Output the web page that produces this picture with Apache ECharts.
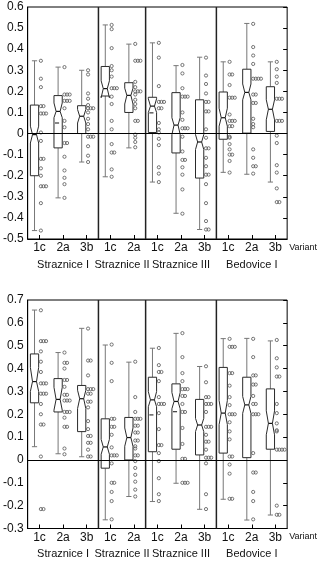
<!DOCTYPE html>
<html>
<head>
<meta charset="utf-8">
<script src="https://cdn.jsdelivr.net/npm/echarts@6/dist/echarts.min.js"></script>
<style>
  html, body { margin: 0; padding: 0; background: #fff; }
  #chart { width: 318px; height: 564px; }
</style>
</head>
<body>
<div id="chart"></div>
<script>
// categories and groups
const categories = ['1c', '2a', '3b', '1c', '2a', '1c', '2a', '3b', '1c', '2a', '3b'];
const groups = ['Straznice I', 'Straznice II', 'Straznice III', 'Bedovice I'];
const groupSizes = [3, 2, 3, 3];

// upper panel: box statistics
const topWhiskerLow  = [-0.46, -0.305, -0.135, -0.205, -0.068, -0.23, -0.378, -0.455, -0.184, -0.193, -0.23];
const topQ1          = [-0.2, -0.068, 0.0, 0.178, 0.1, 0.005, -0.092, -0.211, -0.027, 0.002, 0.01];
const topNotchLow    = [-0.045, 0.075, 0.05, 0.17, 0.14, 0.1, -0.005, -0.076, 0.035, 0.16, 0.065];
const topMedian      = [-0.005, 0.105, 0.082, 0.213, 0.181, 0.13, 0.04, -0.04, 0.075, 0.195, 0.115];
const topNotchHigh   = [0.035, 0.145, 0.114, 0.25, 0.215, 0.165, 0.075, -0.005, 0.12, 0.235, 0.16];
const topQ3          = [0.135, 0.18, 0.132, 0.318, 0.241, 0.172, 0.194, 0.16, 0.197, 0.305, 0.222];
const topWhiskerHigh = [0.345, 0.315, 0.3, 0.515, 0.424, 0.43, 0.322, 0.362, 0.34, 0.522, 0.34];
const topDash        = [null, 0.05, null, null, null, 0.098, null, null, null, null, null];
const topPoints = [
  [0.345, 0.26, 0.22, 0.13, 0.13, 0.095, 0.095, 0.095, 0.005, -0.035, -0.12, -0.12, -0.165, -0.2, -0.25, -0.25, -0.25, -0.33, -0.46],
  [0.315, 0.185, 0.185, 0.185, 0.155, 0.155, 0.155, 0.12, 0.06, 0.03, -0.045, -0.045, -0.11, -0.175, -0.21, -0.24, -0.305],
  [0.3, 0.28, 0.19, 0.165, 0.135, 0.12, 0.12, 0.12, 0.1, 0.07, 0.045, 0.02, -0.015, -0.015, -0.015, -0.06, -0.105, -0.135],
  [0.515, 0.495, 0.405, 0.32, 0.3, 0.27, 0.215, 0.215, 0.215, 0.175, 0.14, 0.06, 0.02, -0.05, -0.09, -0.09, -0.17, -0.205],
  [0.425, 0.345, 0.345, 0.345, 0.245, 0.22, 0.2, 0.2, 0.2, 0.185, 0.16, 0.14, 0.12, 0.06, 0.06, -0.005, -0.02, -0.04, -0.065],
  [0.43, 0.36, 0.225, 0.15, 0.15, 0.15, 0.12, 0.12, 0.05, 0.02, 0.005, -0.025, -0.055, -0.16, -0.19, -0.23],
  [0.325, 0.285, 0.215, 0.175, 0.175, 0.175, 0.1, 0.065, 0.025, 0.025, 0.025, -0.015, -0.085, -0.125, -0.125, -0.16, -0.195, -0.265, -0.38],
  [0.36, 0.275, 0.235, 0.19, 0.15, 0.15, 0.105, 0.105, 0.02, -0.02, -0.07, -0.07, -0.115, -0.155, -0.195, -0.195, -0.24, -0.33, -0.415, -0.455, -0.455],
  [0.34, 0.28, 0.28, 0.23, 0.17, 0.17, 0.17, 0.09, 0.06, 0.06, 0.06, 0.035, 0.035, -0.015, -0.02, -0.05, -0.075, -0.1, -0.1, -0.13, -0.185],
  [0.52, 0.41, 0.37, 0.33, 0.26, 0.26, 0.26, 0.26, 0.185, 0.185, 0.145, 0.145, 0.07, 0.045, 0.03, -0.075, -0.115, -0.155, -0.155, -0.19],
  [0.34, 0.305, 0.27, 0.24, 0.165, 0.165, 0.165, 0.06, 0.06, 0.06, -0.01, -0.045, -0.15, -0.185, -0.26, -0.325, -0.325]
];

// lower panel: box statistics
const botWhiskerLow  = [0.058, 0.027, 0.014, -0.262, -0.16, -0.182, -0.102, -0.216, -0.172, -0.263, -0.241];
const botQ1          = [0.25, 0.21, 0.124, -0.036, 0.0, 0.036, 0.047, 0.022, 0.03, 0.01, 0.047];
const botNotchLow    = [0.3, 0.218, 0.225, 0.025, 0.06, 0.233, 0.224, 0.124, 0.155, 0.204, 0.11];
const botMedian      = [0.343, 0.265, 0.268, 0.057, 0.098, 0.263, 0.256, 0.153, 0.205, 0.241, 0.16];
const botNotchHigh   = [0.405, 0.318, 0.305, 0.09, 0.14, 0.299, 0.295, 0.182, 0.26, 0.278, 0.215];
const botQ3          = [0.464, 0.356, 0.326, 0.18, 0.186, 0.362, 0.333, 0.265, 0.405, 0.362, 0.311];
const botWhiskerHigh = [0.656, 0.47, 0.576, 0.503, 0.428, 0.489, 0.554, 0.409, 0.531, 0.532, 0.521];
const botDash        = [null, null, null, null, null, 0.197, 0.211, null, null, null, null];
const botPoints = [
  [0.655, 0.52, 0.52, 0.52, 0.475, 0.43, 0.385, 0.335, 0.335, 0.335, 0.29, 0.29, 0.29, 0.245, 0.2, 0.155, 0.155, 0.015, -0.215, -0.215],
  [0.47, 0.425, 0.425, 0.4, 0.35, 0.35, 0.32, 0.285, 0.285, 0.26, 0.26, 0.26, 0.21, 0.21, 0.21, 0.185, 0.145, 0.145, 0.05, 0.025],
  [0.575, 0.435, 0.435, 0.37, 0.31, 0.31, 0.31, 0.29, 0.29, 0.255, 0.255, 0.23, 0.17, 0.135, 0.105, 0.105, 0.075, 0.075, 0.045, 0.015, 0.015],
  [0.505, 0.425, 0.345, 0.18, 0.18, 0.145, 0.145, 0.11, 0.055, 0.02, 0.02, 0.02, -0.015, -0.1, -0.1, -0.14, -0.18, -0.26],
  [0.43, 0.275, 0.21, 0.18, 0.18, 0.18, 0.15, 0.15, 0.12, 0.12, 0.085, 0.085, 0.06, 0.05, 0.02, 0.02, -0.005, -0.035, -0.065, -0.095, -0.13, -0.16],
  [0.49, 0.415, 0.385, 0.385, 0.345, 0.275, 0.245, 0.245, 0.245, 0.205, 0.135, 0.065, 0.065, 0.03, -0.005, -0.08, -0.15, -0.18],
  [0.555, 0.45, 0.38, 0.345, 0.31, 0.31, 0.31, 0.28, 0.28, 0.245, 0.21, 0.21, 0.14, 0.07, 0.005, 0.005, -0.1, -0.1, -0.1],
  [0.41, 0.34, 0.275, 0.275, 0.245, 0.245, 0.245, 0.21, 0.145, 0.145, 0.145, 0.11, 0.08, 0.08, 0.045, 0.01, 0.01, 0.01, -0.015, -0.15, -0.215],
  [0.53, 0.495, 0.495, 0.495, 0.38, 0.38, 0.325, 0.275, 0.24, 0.2, 0.2, 0.2, 0.165, 0.125, 0.09, 0.015, 0.015, -0.02, -0.06, -0.17, -0.17],
  [0.53, 0.45, 0.37, 0.37, 0.33, 0.33, 0.28, 0.245, 0.245, 0.2, 0.2, 0.2, 0.03, -0.055, -0.055, -0.14, -0.18, -0.26],
  [0.525, 0.445, 0.405, 0.365, 0.365, 0.245, 0.205, 0.16, 0.13, 0.125, 0.045, 0.045, 0.045, 0.045, -0.2, -0.24, -0.24]
];

// axis ranges
const topRange = [-0.5, 0.6];
const botRange = [-0.3, 0.7];
const yStep = 0.1;

const FONT = '"Liberation Sans", Arial, sans-serif';

// group centres / boundaries on the 0..11 axis
const groupCenters = [];
const groupEdges = [];
let acc = 0;
groupSizes.forEach((n, i) => {
    groupCenters.push(acc + n / 2);
    acc += n;
    if (i < groupSizes.length - 1) groupEdges.push(acc);
});

function boxData(lo, q1, nlo, med, nhi, q3, hi, dash) {
    return lo.map((v, i) => [i, v, q1[i], nlo[i], med[i], nhi[i], q3[i], hi[i], dash[i] == null ? '-' : dash[i]]);
}

function pointData(lists) {
    const out = [];
    lists.forEach((list, i) => {
        const seen = {};
        list.forEach(v => {
            const key = v.toFixed(3);
            const r = seen[key] || 0;
            seen[key] = r + 1;
            out.push([i, v, r]);
        });
    });
    return out;
}

function renderBox(params, api) {
    const idx = api.value(0);
    const bw = api.size([1, 0])[0];
    const cx = api.coord([idx, 0])[0] - bw * 0.21;
    const hw = bw * 0.175, nw = bw * 0.085, cw = bw * 0.11;
    const y = k => api.coord([idx, api.value(k)])[1];
    const lo = y(1), q1 = y(2), nlo = y(3), med = y(4), nhi = y(5), q3 = y(6), hi = y(7);
    const whStyle = { stroke: '#777', lineWidth: 1 };
    const children = [
        { type: 'line', shape: { x1: cx, y1: q3, x2: cx, y2: hi }, style: whStyle },
        { type: 'line', shape: { x1: cx, y1: q1, x2: cx, y2: lo }, style: whStyle },
        { type: 'line', shape: { x1: cx - cw, y1: hi, x2: cx + cw, y2: hi }, style: whStyle },
        { type: 'line', shape: { x1: cx - cw, y1: lo, x2: cx + cw, y2: lo }, style: whStyle },
        {
            type: 'polygon',
            shape: {
                points: [
                    [cx - hw, q3], [cx - hw, nhi], [cx - nw, med], [cx - hw, nlo], [cx - hw, q1],
                    [cx + hw, q1], [cx + hw, nlo], [cx + nw, med], [cx + hw, nhi], [cx + hw, q3]
                ]
            },
            style: { stroke: '#2a2a2a', fill: '#fff', lineWidth: 1 }
        },
        { type: 'line', shape: { x1: cx - nw, y1: med, x2: cx + nw, y2: med }, style: { stroke: '#111', lineWidth: 1.2 } }
    ];
    const d = api.value(8);
    if (d != null && !isNaN(d)) {
        const yd = api.coord([idx, d])[1];
        children.push({ type: 'line', shape: { x1: cx - hw + 1, y1: yd, x2: cx + 1, y2: yd }, style: { stroke: '#111', lineWidth: 1 } });
    }
    return { type: 'group', children: children };
}

function renderPoint(params, api) {
    const idx = api.value(0);
    const bw = api.size([1, 0])[0];
    const p = api.coord([idx, api.value(1)]);
    return {
        type: 'circle',
        shape: { cx: p[0] + bw * 0.06 + api.value(2) * bw * 0.11, cy: p[1], r: 1.6 },
        style: { stroke: '#555', fill: 'none', lineWidth: 0.8 }
    };
}

function renderDivider(params, api) {
    const x = api.coord([api.value(0), 0])[0];
    const cs = params.coordSys;
    return {
        type: 'line',
        shape: { x1: x, y1: cs.y, x2: x, y2: cs.y + cs.height },
        style: { stroke: '#222', lineWidth: 1.5 }
    };
}

const panels = [
    { grid: { left: 24, top: 7, width: 264, height: 232 }, range: topRange,
      boxes: boxData(topWhiskerLow, topQ1, topNotchLow, topMedian, topNotchHigh, topQ3, topWhiskerHigh, topDash),
      points: pointData(topPoints) },
    { grid: { left: 26, top: 300, width: 262, height: 228.5 }, range: botRange,
      boxes: boxData(botWhiskerLow, botQ1, botNotchLow, botMedian, botNotchHigh, botQ3, botWhiskerHigh, botDash),
      points: pointData(botPoints) }
];

const option = { animation: false, grid: [], xAxis: [], yAxis: [], series: [] };

panels.forEach((p, g) => {
    option.grid.push(Object.assign({ show: true, borderColor: '#000', borderWidth: 1, backgroundColor: 'transparent' }, p.grid));
    option.xAxis.push({
        type: 'category', gridIndex: g, position: 'bottom', data: categories,
        axisLine: { show: true, onZero: false, lineStyle: { color: '#000' } },
        axisTick: { show: true, inside: true, length: 4, alignWithLabel: true, interval: 0, lineStyle: { color: '#000' } },
        axisLabel: { interval: 0, margin: 3, fontSize: 12, color: '#111', fontFamily: FONT },
        splitLine: { show: false },
        name: 'Variant', nameLocation: 'end', nameGap: 2,
        nameTextStyle: { fontSize: 9, color: '#111', fontFamily: FONT, verticalAlign: 'top', padding: [4, 0, 0, 0] }
    });
    option.xAxis.push({
        type: 'value', gridIndex: g, position: 'bottom', min: 0, max: categories.length, interval: 0.5,
        axisLine: { show: false, onZero: false }, axisTick: { show: false }, splitLine: { show: false },
        axisLabel: {
            margin: 20, fontSize: 11, color: '#111', fontFamily: FONT,
            formatter: v => {
                const k = groupCenters.findIndex(c => Math.abs(c - v) < 1e-6);
                return k >= 0 ? groups[k] : '';
            }
        }
    });
    const yBase = {
        type: 'value', gridIndex: g, min: p.range[0], max: p.range[1], interval: yStep,
        splitLine: { show: false }
    };
    option.yAxis.push(Object.assign({}, yBase, {
        position: 'left',
        axisLine: { show: true, onZero: false, lineStyle: { color: '#000' } },
        axisTick: { show: false },
        axisLabel: { margin: 4, fontSize: 12, color: '#111', fontFamily: FONT }
    }));
    option.yAxis.push(Object.assign({}, yBase, {
        position: 'right',
        axisLine: { show: false, onZero: false },
        axisTick: { show: true, inside: true, length: 4, lineStyle: { color: '#000' } },
        axisLabel: { show: false }
    }));
    const xi = g * 2, yi = g * 2;
    option.series.push({
        type: 'custom', xAxisIndex: xi + 1, yAxisIndex: yi, silent: true,
        data: groupEdges.map(e => [e, 0]),
        renderItem: renderDivider,
        markLine: {
            silent: true, symbol: 'none', label: { show: false },
            lineStyle: { color: '#000', type: 'solid', width: 1.2 },
            data: [{ yAxis: 0 }]
        }
    });
    option.series.push({
        type: 'custom', xAxisIndex: xi, yAxisIndex: yi, silent: true,
        data: p.boxes, renderItem: renderBox
    });
    option.series.push({
        type: 'custom', xAxisIndex: xi, yAxisIndex: yi, silent: true,
        data: p.points, renderItem: renderPoint
    });
});

const chart = echarts.init(document.getElementById('chart'));
chart.setOption(option);
</script>
</body>
</html>
